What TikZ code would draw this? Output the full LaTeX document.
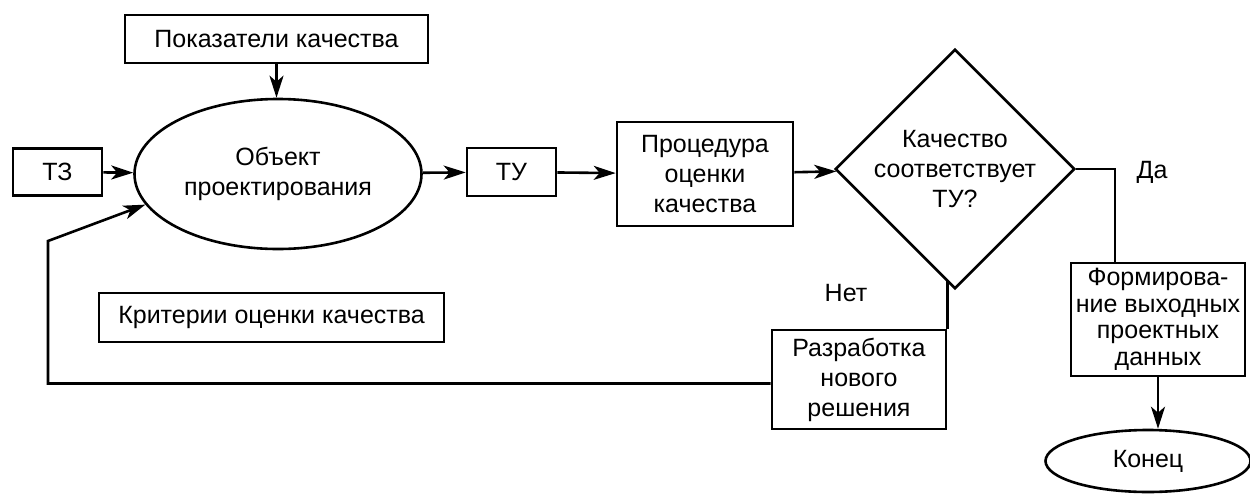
\documentclass[tikz,border=0pt]{standalone}
\usepackage{fontspec}
\setmainfont{Liberation Sans}
\usetikzlibrary{arrows.meta,positioning,shapes.geometric,calc}

\begin{document}
\begin{tikzpicture}[x=1pt, y=-1pt, font=\fontsize{25}{30}\selectfont,
	line width=2.6pt,
	blk/.style={draw, align=center, inner sep=0pt},
	oval/.style={draw, ellipse, align=center, inner sep=0pt},
	arr/.style={-{Stealth[length=22pt, width=14pt, inset=6pt]}}]
	\useasboundingbox (0,0) rectangle (1250,493);

	\node[blk, minimum width=303pt, minimum height=48pt] (pok) at (276.5,39)
	{Показатели качества};
	\node[oval, minimum width=287pt, minimum height=150pt] (obj) at (278,174)
	{Объект\\проектирования};
	\node[blk, minimum width=89pt, minimum height=47pt] (tz) at (57.5,172) {ТЗ};
	\node[blk, minimum width=89pt, minimum height=48pt] (tu) at (511.5,172) {ТУ};
	\node[blk, minimum width=176pt, minimum height=104pt] (proc) at (705,174)
	{Процедура\\оценки\\качества};
	\node[draw, diamond, aspect=1, inner sep=0pt, minimum width=238pt,
		minimum height=238pt, align=center] (dia) at (955,169)
	{Качество\\соответствует\\ТУ?};
	\node[blk, minimum width=345pt, minimum height=49pt] (krit) at (271.5,317.5)
	{Критерии оценки качества};
	\node[blk, minimum width=174pt, minimum height=99pt] (razr) at (859,379.5)
	{Разработка\\нового\\решения};
	\node[blk, minimum width=174pt, minimum height=113pt,
		font=\fontsize{25}{26.5}\selectfont] (form) at (1158,319.5)
	{Формирова-\\ние выходных\\проектных\\данных};
	\node[oval, minimum width=205pt, minimum height=62pt] (kon) at (1148,461) {Конец};
	\node (da) at (1152,172) {Да};
	\node (net) at (846,293) {Нет};

	% main line
	\draw[arr] (pok.south) -- (pok.south |- obj.north);
	\draw[arr] (tz) -- (obj);
	\draw[arr] (obj) -- (tu);
	\draw[arr] (tu) -- (proc);
	\draw[arr] (proc) -- (dia);
	% branches
	\draw (dia.east) -| ([xshift=-43pt]form.north);
	\draw (razr.north east) -- (razr.north east |- dia.265);
	\draw[arr] (form.south) -- (form.south |- kon.north);
	% back to the object
	\coordinate (bend) at (48,241);
	\draw[arr] ([yshift=-4pt]razr.west) -| (bend) -- (obj.193);
\end{tikzpicture}
\end{document}
